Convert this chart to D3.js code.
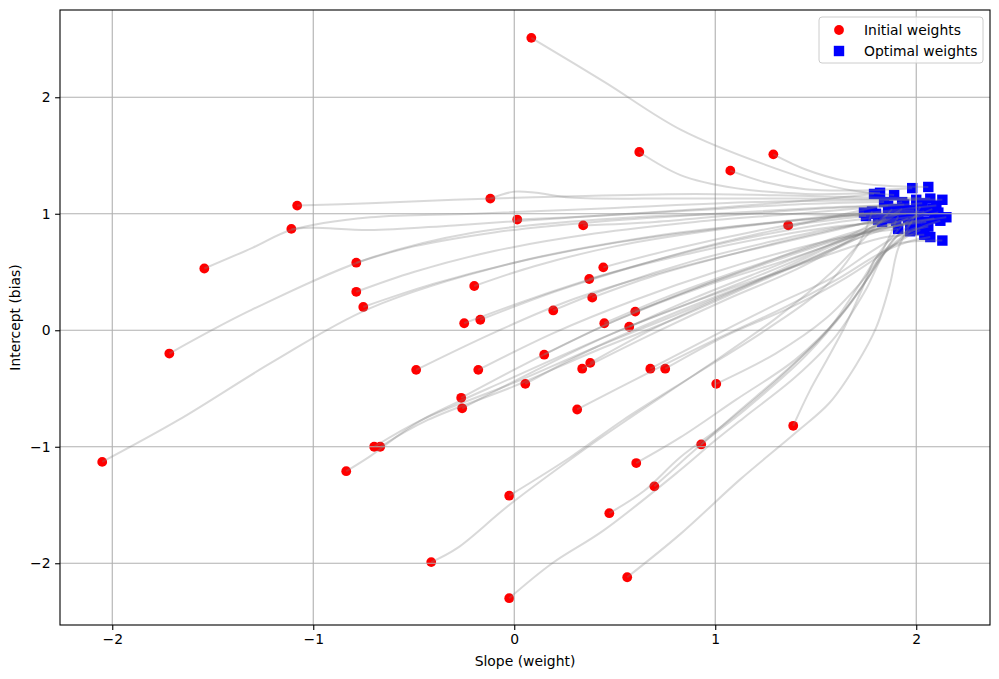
<!DOCTYPE html>
<html><head><meta charset="utf-8">
<script src="https://cdn.jsdelivr.net/npm/d3@7"></script>
<style>body{margin:0;background:#fff} text{font-family:"DejaVu Sans",sans-serif}</style>
</head><body>
<svg id="chart" width="999" height="679"></svg>
<script>
// ---- data ----
const initialW = [0.085,0.622,1.289,1.075,-1.08,-0.119,-1.109,0.015,0.343,1.363,-1.542,-0.786,0.443,0.373,-0.199,-0.786,0.388,-0.751,0.194,0.602,-0.169,-0.249,0.448,0.572,-1.716,0.149,-0.488,-0.179,0.338,0.378,0.677,0.751,0.055,1.005,-0.264,-0.259,0.313,1.388,-0.697,-0.667,0.930,-2.05,-0.836,0.607,0.697,-0.025,0.473,-0.413,0.562,-0.025];
const initialB = [2.51,1.53,1.51,1.37,1.07,1.13,0.87,0.95,0.90,0.90,0.53,0.58,0.54,0.44,0.38,0.33,0.28,0.20,0.17,0.16,0.09,0.06,0.06,0.03,-0.20,-0.21,-0.34,-0.34,-0.33,-0.28,-0.33,-0.33,-0.46,-0.46,-0.58,-0.67,-0.68,-0.82,-1.00,-1.00,-0.98,-1.13,-1.21,-1.14,-1.34,-1.42,-1.57,-1.99,-2.12,-2.30];
const optimalW = [1.89,1.82,2.06,1.98,2.07,2.13,1.79,1.84,1.86,2.04,2.00,1.94,2.10,1.95,1.80,2.03,2.01,1.99,1.90,2.09,1.93,1.83,1.98,2.15,1.75,2.05,1.81,1.91,1.93,2.00,2.06,2.12,1.85,2.02,1.96,2.04,2.07,2.13,1.92,2.11,2.08,1.74,1.86,1.97,2.00,1.78,1.91,1.88,2.02,1.97];
const optimalB = [1.16,1.18,1.23,1.22,1.13,1.12,1.17,1.10,1.07,1.02,1.12,1.08,1.07,1.00,1.00,1.09,0.98,1.03,0.94,0.96,1.10,0.93,0.92,0.97,0.98,0.93,0.95,0.87,1.04,0.94,0.89,0.94,0.96,0.86,0.96,0.82,0.80,0.77,1.01,1.01,1.04,1.01,0.99,0.91,0.88,1.02,0.98,1.04,1.06,0.85];
// intermediate (weight, bias) waypoints of each descent path
const pathMidpoints = [
 [[0.45,2.13],[0.83,1.72],[1.25,1.42],[1.62,1.22]],
 [[0.83,1.33],[1.1,1.22],[1.45,1.17]],
 [[1.45,1.38],[1.65,1.28],[1.85,1.24]],
 [[1.25,1.27],[1.45,1.21],[1.7,1.2]],
 [[-0.72,1.09],[-0.3,1.12],[0.3,1.15],[0.9,1.17],[1.5,1.15]],
 [[0.0,1.19],[0.11,1.18],[0.28,1.14],[0.8,1.13],[1.4,1.13]],
 [[-1.0,0.88],[-0.72,0.86],[-0.3,0.9],[0.3,0.97],[1.0,1.05],[1.5,1.12]],
 [[0.4,0.98],[0.9,1.03],[1.4,1.08]],
 [[0.7,0.93],[1.1,0.99],[1.5,1.04]],
 [[1.55,0.94],[1.75,0.98]],
 [[-1.3,0.71],[-1.109,0.86],[-0.716,0.97],[-0.2,1.0],[0.5,1.05],[1.2,1.1]],
 [[-0.5,0.72],[-0.1,0.84],[0.4,0.93],[1.0,1.0],[1.5,1.05]],
 [[0.8,0.7],[1.2,0.85],[1.6,0.97]],
 [[0.7,0.6],[1.1,0.77],[1.5,0.9]],
 [[0.1,0.55],[0.5,0.72],[1.0,0.86],[1.45,0.95]],
 [[-0.5,0.5],[-0.1,0.68],[0.4,0.83],[0.9,0.93],[1.4,1.0]],
 [[0.7,0.47],[1.1,0.66],[1.5,0.83],[1.75,0.92]],
 [[-0.4,0.4],[0.0,0.58],[0.5,0.75],[1.0,0.87],[1.5,0.96]],
 [[0.5,0.38],[0.9,0.6],[1.3,0.77],[1.6,0.88]],
 [[0.9,0.36],[1.2,0.55],[1.5,0.74],[1.75,0.87]],
 [[0.2,0.33],[0.6,0.55],[1.0,0.74],[1.4,0.9],[1.7,1.02]],
 [[0.1,0.28],[0.5,0.5],[0.9,0.67],[1.3,0.81],[1.6,0.89]],
 [[0.75,0.28],[1.1,0.5],[1.45,0.7],[1.7,0.83]],
 [[0.9,0.28],[1.25,0.52],[1.55,0.72],[1.8,0.86]],
 [[-1.313,0.17],[-0.716,0.62],[-0.2,0.84],[0.5,0.96],[1.2,1.0]],
 [[0.5,0.08],[0.9,0.36],[1.3,0.6],[1.6,0.77],[1.85,0.88]],
 [[-0.1,-0.02],[0.3,0.27],[0.8,0.53],[1.3,0.74],[1.6,0.86]],
 [[0.2,-0.02],[0.6,0.26],[1.0,0.5],[1.4,0.7],[1.7,0.82]],
 [[0.7,-0.02],[1.05,0.26],[1.4,0.52],[1.65,0.75],[1.82,0.93]],
 [[0.7,0.02],[1.05,0.3],[1.4,0.56],[1.65,0.75],[1.85,0.87]],
 [[1.0,-0.04],[1.3,0.22],[1.58,0.45],[1.78,0.68],[1.92,0.82]],
 [[1.05,-0.05],[1.38,0.2],[1.65,0.45],[1.85,0.68],[1.98,0.85]],
 [[0.4,-0.15],[0.8,0.15],[1.2,0.42],[1.5,0.63],[1.72,0.82]],
 [[1.3,-0.2],[1.55,0.1],[1.72,0.4],[1.84,0.66],[1.95,0.8]],
 [[0.1,-0.25],[0.5,0.08],[0.95,0.38],[1.35,0.6],[1.68,0.8]],
 [[0.1,-0.35],[0.5,-0.02],[0.95,0.28],[1.35,0.52],[1.65,0.7],[1.85,0.8]],
 [[0.65,-0.38],[1.0,-0.08],[1.35,0.2],[1.62,0.45],[1.82,0.66],[1.96,0.76]],
 [[1.47,-0.52],[1.56,-0.24],[1.65,0.05],[1.73,0.35],[1.8,0.62],[1.9,0.74]],
 [[-0.45,-0.76],[0.0,-0.45],[0.4,-0.15],[0.83,0.15],[1.25,0.46],[1.55,0.7],[1.78,0.88]],
 [[-0.43,-0.77],[0.0,-0.48],[0.4,-0.18],[0.83,0.12],[1.25,0.44],[1.6,0.7],[1.85,0.9]],
 [[1.1,-0.72],[1.35,-0.35],[1.56,0.0],[1.72,0.4],[1.84,0.72],[1.96,0.94]],
 [[-1.67,-0.77],[-1.2,-0.27],[-0.716,0.19],[0.0,0.58],[0.7,0.81],[1.3,0.93]],
 [[-0.716,-1.08],[-0.47,-0.78],[0.0,-0.4],[0.5,-0.02],[1.0,0.32],[1.4,0.6],[1.7,0.84]],
 [[0.826,-0.92],[1.1,-0.6],[1.4,-0.25],[1.62,0.12],[1.77,0.48],[1.88,0.76]],
 [[0.826,-1.14],[0.93,-0.98],[1.15,-0.68],[1.45,-0.22],[1.66,0.2],[1.8,0.55],[1.9,0.8]],
 [[0.279,-1.09],[0.542,-0.77],[0.9,-0.38],[1.25,0.0],[1.55,0.38],[1.72,0.76]],
 [[0.645,-1.38],[0.826,-1.09],[1.05,-0.8],[1.35,-0.36],[1.6,0.08],[1.76,0.45],[1.86,0.78]],
 [[-0.284,-1.87],[-0.025,-1.5],[0.343,-1.03],[0.56,-0.77],[0.95,-0.32],[1.3,0.1],[1.58,0.5],[1.78,0.86]],
 [[0.826,-1.75],[1.124,-1.28],[1.40,-0.88],[1.57,-0.62],[1.70,-0.3],[1.80,0.02],[1.87,0.4],[1.91,0.7]],
 [[0.189,-2.0],[0.443,-1.72],[0.826,-1.2],[0.99,-0.96],[1.15,-0.74],[1.4,-0.4],[1.6,-0.05],[1.75,0.35],[1.85,0.68]]
];
const xTicks = [-2,-1,0,1,2];
const yTicks = [-2,-1,0,1,2];
const legendLabels = ["Initial weights","Optimal weights"];
const xLabel = "Slope (weight)";
const yLabel = "Intercept (bias)";

// ---- drawing ----
const svg = d3.select('#chart');
const m = {left:60, right:990, top:10, bottom:625};
const x = d3.scaleLinear().domain([-2.260, 2.367]).range([m.left, m.right]);
const y = d3.scaleLinear().domain([-2.530, 2.749]).range([m.bottom, m.top]);
const FS = '13.9px';

svg.append('defs').append('clipPath').attr('id','clip')
  .append('rect').attr('x',m.left).attr('y',m.top).attr('width',m.right-m.left).attr('height',m.bottom-m.top);

const plot = svg.append('g').attr('clip-path','url(#clip)');

// initial weights (red circles)
plot.append('g').selectAll('circle').data(initialW).join('circle')
  .attr('cx',(d)=>x(d)).attr('cy',(d,i)=>y(initialB[i])).attr('r',4.9).attr('fill','#ff0000');

// optimal weights (blue squares)
const sq = 10.4;
plot.append('g').selectAll('rect').data(optimalW).join('rect')
  .attr('x',(d)=>x(d)-sq/2).attr('y',(d,i)=>y(optimalB[i])-sq/2)
  .attr('width',sq).attr('height',sq).attr('fill','#0000ff');

// grid
const grid = plot.append('g').attr('stroke','#b0b0b0').attr('stroke-width',1.1);
grid.selectAll('line.vx').data(xTicks).join('line')
  .attr('x1',d=>x(d)).attr('x2',d=>x(d)).attr('y1',m.top).attr('y2',m.bottom);
grid.selectAll('line.hy').data(yTicks).join('line')
  .attr('y1',d=>y(d)).attr('y2',d=>y(d)).attr('x1',m.left).attr('x2',m.right);

// trajectories
const line = d3.line().x(p=>x(p[0])).y(p=>y(p[1])).curve(d3.curveCatmullRom.alpha(0.5));
const paths = pathMidpoints.map((mid,i)=>[[initialW[i],initialB[i]], ...mid, [optimalW[i],optimalB[i]]]);
plot.append('g').selectAll('path').data(paths).join('path')
  .attr('d',line).attr('fill','none').attr('stroke','#808080')
  .attr('stroke-opacity',0.3).attr('stroke-width',2);

// axes
const gx = svg.append('g').attr('transform',`translate(0,${m.bottom})`)
  .call(d3.axisBottom(x).tickValues(xTicks).tickSize(4.9).tickPadding(4.6).tickFormat(d3.format('d')));
const gy = svg.append('g').attr('transform',`translate(${m.left},0)`)
  .call(d3.axisLeft(y).tickValues(yTicks).tickSize(4.9).tickPadding(4.6).tickFormat(d3.format('d')));
[gx,gy].forEach(g=>{
  g.select('.domain').remove();
  g.selectAll('line').attr('stroke','#000').attr('stroke-width',1.1);
  g.selectAll('text').attr('font-size',FS).attr('fill','#000').attr('font-family','"DejaVu Sans",sans-serif');
});

// frame
svg.append('rect').attr('x',m.left).attr('y',m.top).attr('width',m.right-m.left).attr('height',m.bottom-m.top)
  .attr('fill','none').attr('stroke','#000').attr('stroke-width',1.1);

// axis labels
svg.append('text').attr('x',(m.left+m.right)/2).attr('y',666).attr('text-anchor','middle')
  .attr('font-size',FS).text(xLabel);
svg.append('text').attr('transform',`translate(20,${(m.top+m.bottom)/2}) rotate(-90)`)
  .attr('text-anchor','middle').attr('font-size',FS).text(yLabel);

// legend
const lg = svg.append('g');
lg.append('rect').attr('x',819).attr('y',17).attr('width',164).attr('height',46).attr('rx',3)
  .attr('fill','#fff').attr('fill-opacity',0.8).attr('stroke','#cccccc').attr('stroke-width',1);
lg.append('circle').attr('cx',839).attr('cy',30).attr('r',4.9).attr('fill','#ff0000');
lg.append('rect').attr('x',839-sq/2).attr('y',51-sq/2).attr('width',sq).attr('height',sq).attr('fill','#0000ff');
lg.selectAll('text').data(legendLabels).join('text')
  .attr('x',864).attr('y',(d,i)=>30+i*21).attr('dy','0.35em').attr('font-size',FS).text(d=>d);
</script>
</body></html>
